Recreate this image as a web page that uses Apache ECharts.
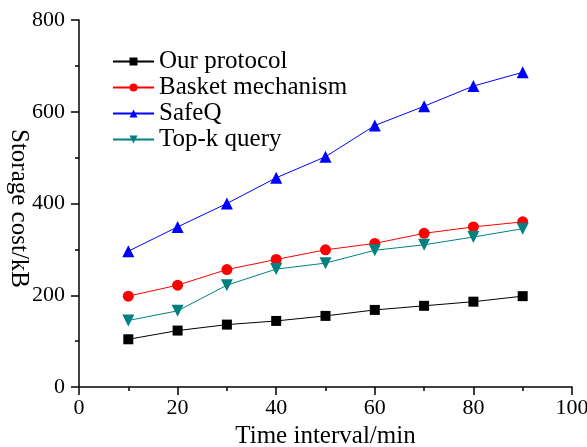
<!DOCTYPE html>
<html>
<head>
<meta charset="utf-8">
<script src="https://cdn.jsdelivr.net/npm/echarts@6/dist/echarts.min.js"></script>
<style>
  html, body { margin: 0; padding: 0; background: #fff; }
  #chart { width: 587px; height: 447px; }
</style>
</head>
<body>
<div id="chart"></div>
<script>
// time interval (min)
var timeX = [10, 20, 30, 40, 50, 60, 70, 80, 90];
var ourProtocol = [104, 123, 136, 144, 155, 168, 177, 186, 198];
var basket = [198, 222, 256, 278, 299, 313, 335, 349, 360];
var safeQ = [296, 349, 400, 456, 502, 570, 612, 656, 686];
var topK = [145, 166, 222, 257, 270, 298, 310, 327, 345];

var serif = 'Liberation Serif';

function pairs(vals) {
    return vals.map(function (v, i) { return [timeX[i], v]; });
}

function makeSeries(name, vals, color, symbol, size) {
    return {
        name: name,
        type: 'line',
        data: pairs(vals),
        symbol: symbol,
        symbolSize: size,
        lineStyle: { color: color, width: 1 },
        itemStyle: { color: color },
        emphasis: { disabled: true }
    };
}

var chart = echarts.init(document.getElementById('chart'));
chart.setOption({
    animation: false,
    grid: { left: 79, right: 15, top: 20, bottom: 60, outerBoundsMode: 'none', containLabel: false },
    legend: {
        orient: 'vertical',
        left: 112,
        top: 49,
        padding: 0,
        itemWidth: 41,
        itemHeight: 10,
        itemGap: 1,
        textStyle: { fontFamily: serif, fontSize: 25, lineHeight: 25, color: '#000' },
        data: ['Our protocol', 'Basket mechanism', 'SafeQ', 'Top-k query']
    },
    xAxis: {
        type: 'value',
        min: 0,
        max: 100,
        interval: 20,
        name: 'Time interval/min',
        nameLocation: 'middle',
        nameGap: 36,
        nameTextStyle: { fontFamily: serif, fontSize: 25, color: '#000' },
        axisLine: { lineStyle: { color: '#000', width: 1.5 } },
        axisTick: { inside: false, length: 8, lineStyle: { color: '#000', width: 1.5 } },
        minorTick: { show: true, splitNumber: 2, length: 4, lineStyle: { color: '#000', width: 1.5 } },
        axisLabel: { fontFamily: serif, fontSize: 22, color: '#000', margin: 10 },
        splitLine: { show: false }
    },
    yAxis: {
        type: 'value',
        min: 0,
        max: 800,
        interval: 200,
        axisLine: { show: true, lineStyle: { color: '#000', width: 1.5 } },
        axisTick: { show: true, inside: false, length: 8, lineStyle: { color: '#000', width: 1.5 } },
        minorTick: { show: true, splitNumber: 2, length: 4, lineStyle: { color: '#000', width: 1.5 } },
        axisLabel: { fontFamily: serif, fontSize: 22, color: '#000', margin: 14 },
        splitLine: { show: false }
    },
    graphic: [{
        type: 'text',
        left: 6,
        top: 129,
        rotation: -Math.PI / 2,
        style: {
            text: 'Storage cost/kB',
            font: '25px "Liberation Serif"',
            fill: '#000'
        }
    }],
    series: [
        makeSeries('Our protocol', ourProtocol, '#000000', 'rect', 10),
        makeSeries('Basket mechanism', basket, '#ff0000', 'circle', 11),
        makeSeries('SafeQ', safeQ, '#0000ff', 'triangle', 12),
        makeSeries('Top-k query', topK, '#008080', 'path://M0,0 L10,0 L5,9 Z', 12)
    ]
});
</script>
</body>
</html>
